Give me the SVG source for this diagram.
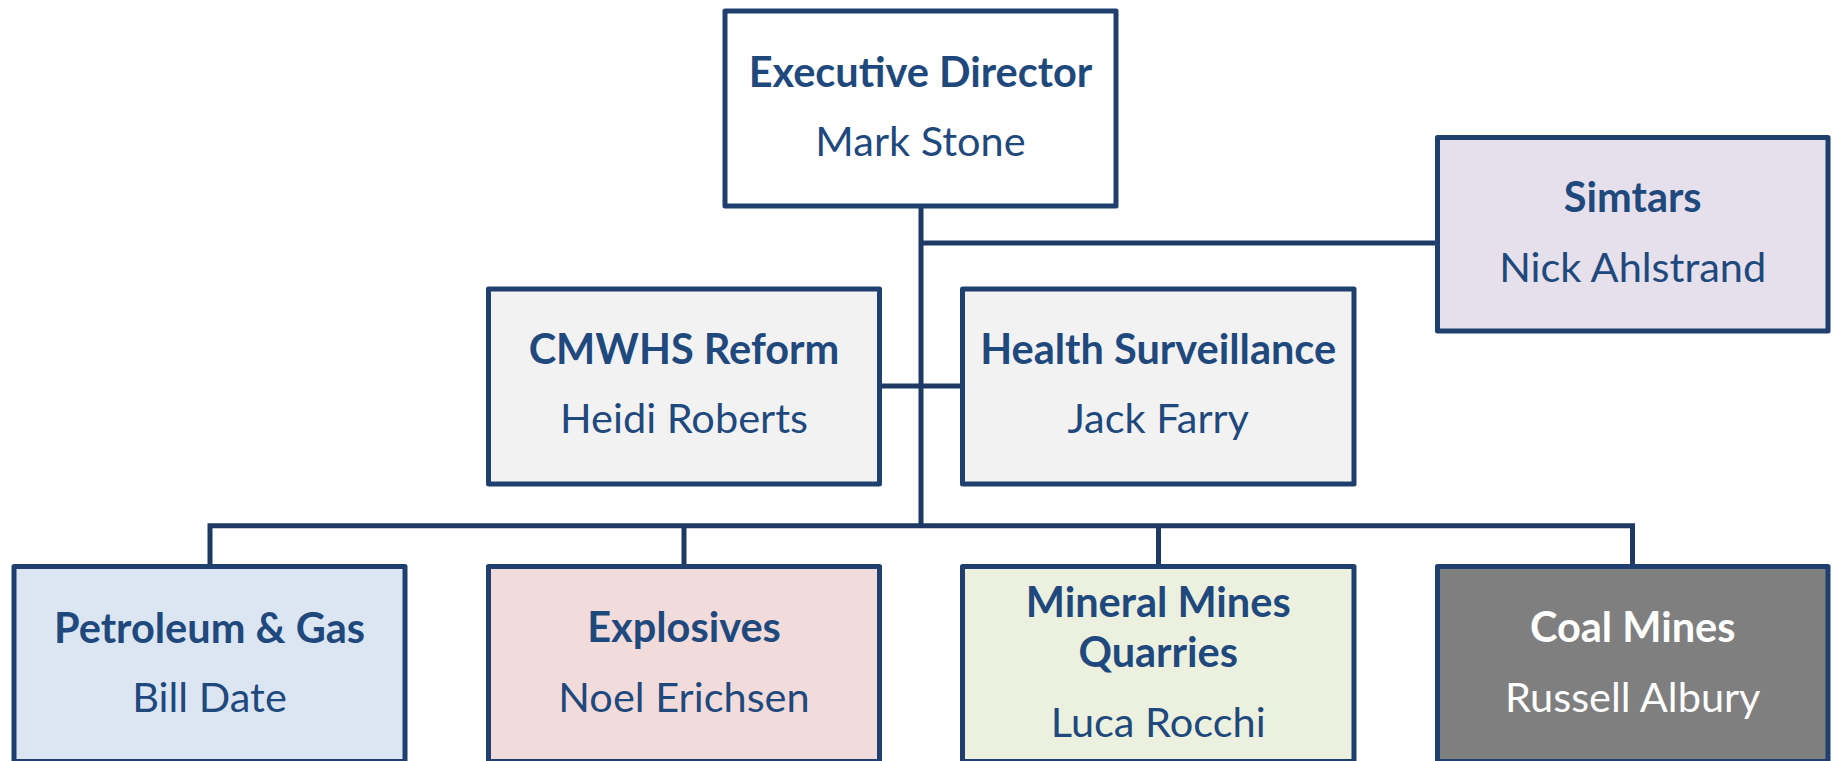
<svg xmlns="http://www.w3.org/2000/svg" width="1835" height="761" viewBox="0 0 1835 761">
<style>
.box{stroke:#1F3F6E;stroke-width:5;stroke-linejoin:round}
.con{stroke:#1E3A64;stroke-width:5;fill:none}
text{font-family:Lato,"Open Sans","Liberation Sans",sans-serif;font-size:41.5px;fill:#1F497D;text-anchor:middle}
.t{font-weight:bold}
.w{fill:#FFFFFF}
</style>
<rect width="1835" height="761" fill="#FFFFFF"/>
<g id="connectors">
<line class="con" x1="921" y1="206" x2="921" y2="526"/>
<line class="con" x1="921" y1="243" x2="1437.5" y2="243"/>
<line class="con" x1="879.5" y1="386" x2="962.5" y2="386"/>
<polyline class="con" points="210,566.5 210,525.7 1632.5,525.7 1632.5,566.5"/>
<line class="con" x1="684" y1="525.7" x2="684" y2="566.5"/>
<line class="con" x1="1158.5" y1="525.7" x2="1158.5" y2="566.5"/>
</g>
<g id="exec">
<rect class="box" x="725" y="11" width="391" height="195" fill="#FFFFFF"/>
<text class="t" x="920.5" y="87">Executive Director</text>
<text x="920.5" y="156">Mark Stone</text>
</g>
<g id="simtars">
<rect class="box" x="1437.5" y="137.5" width="390.5" height="193.5" fill="#E5E0EC"/>
<text class="t" x="1632.7" y="212">Simtars</text>
<text x="1632.7" y="281.7">Nick Ahlstrand</text>
</g>
<g id="cmwhs">
<rect class="box" x="488.5" y="289" width="391" height="195" fill="#F2F2F2"/>
<text class="t" x="684" y="364">CMWHS Reform</text>
<text x="684" y="433">Heidi Roberts</text>
</g>
<g id="health">
<rect class="box" x="962.5" y="289" width="391.5" height="195" fill="#F2F2F2"/>
<text class="t" x="1158.2" y="364">Health Surveillance</text>
<text x="1158.2" y="433">Jack Farry</text>
</g>
<g id="petroleum">
<rect class="box" x="14" y="566.5" width="391" height="195" fill="#DCE6F2"/>
<text class="t" x="209.5" y="643">Petroleum &amp; Gas</text>
<text x="209.5" y="711.7">Bill Date</text>
</g>
<g id="explosives">
<rect class="box" x="488.5" y="566.5" width="391" height="195" fill="#F2DCDB"/>
<text class="t" x="684" y="641.7">Explosives</text>
<text x="684" y="711.7">Noel Erichsen</text>
</g>
<g id="mineral">
<rect class="box" x="962.5" y="566.5" width="391.5" height="195" fill="#EBF1DE"/>
<text class="t" x="1158.2" y="617.3">Mineral Mines</text>
<text class="t" x="1158.2" y="667">Quarries</text>
<text x="1158.2" y="737">Luca Rocchi</text>
</g>
<g id="coal">
<rect class="box" x="1437.5" y="566.5" width="390.5" height="195" fill="#7F7F7F"/>
<text class="t w" x="1632.7" y="641.7">Coal Mines</text>
<text class="w" x="1632.7" y="711.7">Russell Albury</text>
</g>
</svg>
